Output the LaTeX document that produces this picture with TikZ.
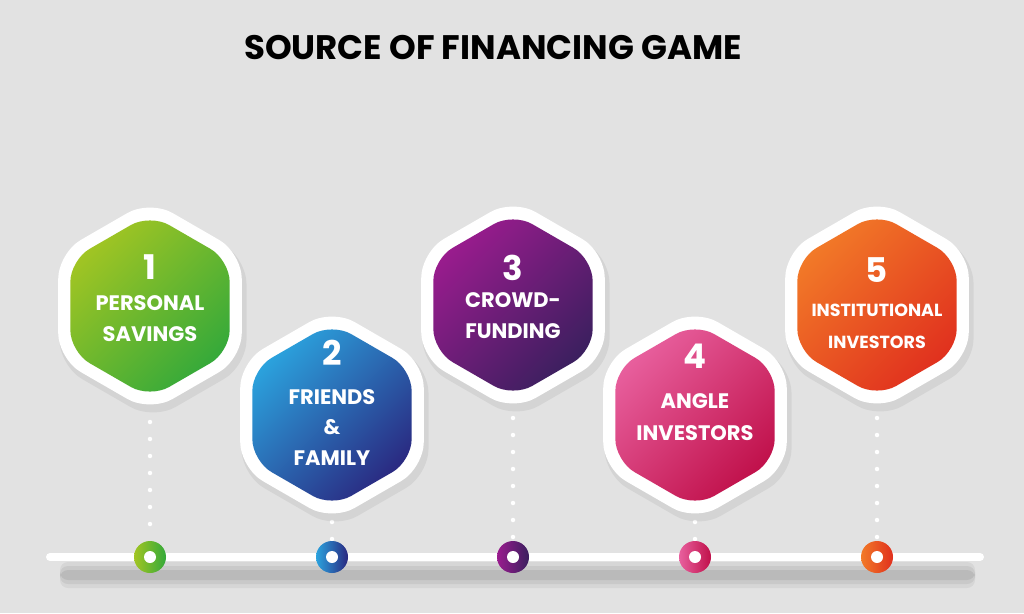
\documentclass[tikz,border=0pt]{standalone}
\usepackage{fontspec}
\setmainfont{Poppins}[BoldFont={Poppins Bold}]
\usetikzlibrary{calc}
\definecolor{bg}{HTML}{E2E2E2}
\definecolor{gA}{HTML}{A2C523}\definecolor{gB}{HTML}{34A93A}
\definecolor{bA}{HTML}{2BA3DE}\definecolor{bB}{HTML}{2A2880}
\definecolor{pA}{HTML}{9A1C8E}\definecolor{pB}{HTML}{3A1F5E}
\definecolor{kA}{HTML}{E8609E}\definecolor{kB}{HTML}{C0104A}
\definecolor{oA}{HTML}{F27A28}\definecolor{oB}{HTML}{E0301E}
\tikzset{
 lbl/.style={text=white,font=\bfseries\fontsize{21}{24}\selectfont,inner sep=0},
 num/.style={text=white,font=\bfseries\fontsize{34}{36}\selectfont,inner sep=0},
 dotline/.style={white,line width=4.5pt,line cap=round,dash pattern=on 0pt off 17pt}
}
\newcommand{\hexa}[4]{%
 \fill[black,opacity=0.06,rounded corners=26] ($(#1)+(3,6)$) ++(90:108) -- ++(210:108) -- ++(270:108) -- ++(330:108) -- ++(30:108) -- ++(90:108) -- cycle;
 \fill[white,rounded corners=26] ($(#1)+(90:106)$) -- ($(#1)+(150:106)$) -- ($(#1)+(210:106)$) -- ($(#1)+(270:106)$) -- ($(#1)+(330:106)$) -- ($(#1)+(30:106)$) -- cycle;
 \shade[top color=#2,bottom color=#3,shading angle=#4,rounded corners=22] ($(#1)+(90:92)$) -- ($(#1)+(150:92)$) -- ($(#1)+(210:92)$) -- ($(#1)+(270:92)$) -- ($(#1)+(330:92)$) -- ($(#1)+(30:92)$) -- cycle;}
\begin{document}
\begin{tikzpicture}[x=1pt,y=-1pt]
\fill[bg] (0,0) rectangle (1024,613);
\useasboundingbox (0,0) rectangle (1024,613);
\node[font=\bfseries\fontsize{34}{36}\selectfont] (title) at (493,48) {SOURCE OF FINANCING GAME};
% centres
\coordinate (h1) at (150,306); \coordinate (h2) at (332,415);
\coordinate (h3) at (513,305); \coordinate (h4) at (695,415);
\coordinate (h5) at (877,305);
\coordinate (c1) at (150,557); \coordinate (c2) at (332,557);
\coordinate (c3) at (513,557); \coordinate (c4) at (695,557);
\coordinate (c5) at (877,557);
% shadow of line
\foreach \o/\w in {0.05/26,0.06/18,0.07/10}{\fill[black,opacity=\o,rounded corners=8] (60,575-\w/2) rectangle (975,575+\w/2);}
\draw[white,line width=8pt,line cap=round] (50,557) -- (980,557);
% dotted connectors
\draw[dotline] (150,422) -- (150,540);
\draw[dotline] (332,522) -- (332,540);
\draw[dotline] (513,418) -- (513,540);
\draw[dotline] (695,522) -- (695,540);
\draw[dotline] (877,418) -- (877,540);
% hexagons
\hexa{h1}{gA}{gB}{45}
\hexa{h2}{bA}{bB}{45}
\hexa{h3}{pA}{pB}{45}
\hexa{h4}{kA}{kB}{45}
\hexa{h5}{oA}{oB}{45}
% circles
\foreach \c/\a/\b in {c1/gA/gB,c2/bA/bB,c3/pA/pB,c4/kA/kB,c5/oA/oB}{
 \shade[left color=\a,right color=\b] (\c) circle (16);
 \fill[white] (\c) circle (6);}
% texts
\node[num] (n1) at (150,267) {1};
\node[lbl] (t1a) at (150,303) {PERSONAL};
\node[lbl] (t1b) at (150,334) {SAVINGS};
\node[num] (n2) at (332,353) {2};
\node[lbl] (t2a) at (332,397) {FRIENDS};
\node[lbl] (t2b) at (332,427) {\&};
\node[lbl] (t2c) at (332,458) {FAMILY};
\node[num] (n3) at (513,268) {3};
\node[lbl] (t3a) at (513,300) {CROWD-};
\node[lbl] (t3b) at (513,331) {FUNDING};
\node[num] (n4) at (695,356) {4};
\node[lbl] (t4a) at (695,401) {ANGLE};
\node[lbl] (t4b) at (695,433) {INVESTORS};
\node[num] (n5) at (877,270) {5};
\node[lbl,font=\bfseries\fontsize{17.5}{20}\selectfont] (t5a) at (877,310) {INSTITUTIONAL};
\node[lbl,font=\bfseries\fontsize{17.5}{20}\selectfont] (t5b) at (877,342) {INVESTORS};
\end{tikzpicture}
\end{document}
